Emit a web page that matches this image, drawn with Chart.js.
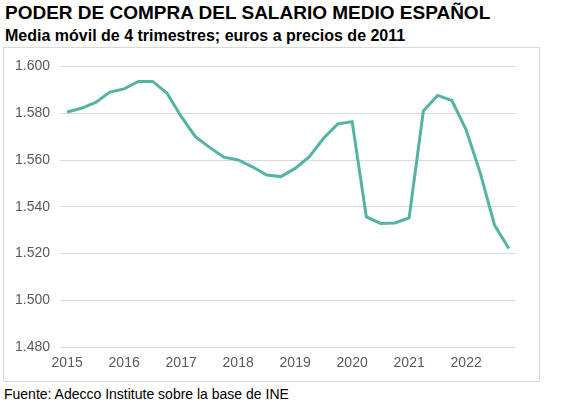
<!DOCTYPE html>
<html>
<head>
<meta charset="utf-8">
<script src="https://cdn.jsdelivr.net/npm/chart.js@4"></script>
<style>
    body { margin: 0; background: #fff; font-family: "Liberation Sans", Arial, sans-serif; }
    .title { position: absolute; left: 5px; top: 2px; font-size: 19px; font-weight: bold; color: #000; white-space: nowrap; }
    .subtitle { position: absolute; left: 5px; top: 27px; font-size: 16px; font-weight: bold; color: #000; white-space: nowrap; }
    .box { position: absolute; left: 3px; top: 47px; width: 535px; height: 333px; border: 1px solid #d9d9d9; }
    .source { position: absolute; left: 4px; top: 386px; font-size: 14px; color: #000; white-space: nowrap; }
</style>
</head>
<body>
<div class="title">PODER DE COMPRA DEL SALARIO MEDIO ESPAÑOL</div>
<div class="subtitle">Media móvil de 4 trimestres; euros a precios de 2011</div>
<div class="box"><canvas id="salarioChart"></canvas></div>
<div class="source">Fuente: Adecco Institute sobre la base de INE</div>

<script>
// Years shown on the x axis (one label per first quarter)
const years = ['2015', '2016', '2017', '2018', '2019', '2020', '2021', '2022'];

// Quarterly categories, 2015 T1 to 2022 T4
const quarters = [];
years.forEach(y => {
    for (let q = 1; q <= 4; q++) quarters.push(y + 'T' + q);
});

// Purchasing power, euros at 2011 prices (4-quarter moving average)
const salario = [
    1580.5, 1582.1, 1584.6, 1589.0,
    1590.4, 1593.6, 1593.6, 1588.6,
    1578.6, 1570.0, 1565.4, 1561.2,
    1560.0, 1557.1, 1553.6, 1552.9,
    1556.4, 1561.4, 1569.3, 1575.4,
    1576.4, 1535.7, 1532.9, 1533.1,
    1535.3, 1581.0, 1587.6, 1585.4,
    1572.9, 1554.3, 1532.1, 1522.2
];

// Y axis ticks
const yMin = 1480;
const yMax = 1600;
const yStep = 20;

document.addEventListener('DOMContentLoaded', function () {
    const ctx = document.getElementById('salarioChart').getContext('2d');

    new Chart(ctx, {
        type: 'line',
        data: {
            labels: quarters,
            datasets: [{
                label: 'Salario medio',
                data: salario,
                borderColor: '#55b3a5',
                borderWidth: 3,
                pointRadius: 0,
                tension: 0,
                fill: false
            }]
        },
        options: {
            responsive: true,
            maintainAspectRatio: false,
            animation: false,
            layout: {
                padding: { top: 18, right: 23, bottom: 1, left: 0 }
            },
            plugins: {
                legend: { display: false },
                tooltip: { enabled: false }
            },
            scales: {
                x: {
                    offset: true,
                    grid: { display: false, drawTicks: false },
                    border: { display: false },
                    ticks: {
                        autoSkip: false,
                        maxRotation: 0,
                        padding: 8,
                        color: '#595959',
                        font: { family: '"Liberation Sans", Arial, sans-serif', size: 14 },
                        callback: function (value, index) {
                            return index % 4 === 0 ? years[index / 4] : '';
                        }
                    }
                },
                y: {
                    min: yMin,
                    max: yMax,
                    afterFit: function (scale) { scale.width = 56; },
                    grid: { color: '#d9d9d9', drawTicks: false },
                    border: { display: false },
                    ticks: {
                        stepSize: yStep,
                        padding: 10,
                        color: '#595959',
                        font: { family: '"Liberation Sans", Arial, sans-serif', size: 14 },
                        callback: function (value) {
                            return value.toString().replace(/\B(?=(\d{3})+(?!\d))/g, '.');
                        }
                    }
                }
            }
        }
    });
});
</script>
</body>
</html>
